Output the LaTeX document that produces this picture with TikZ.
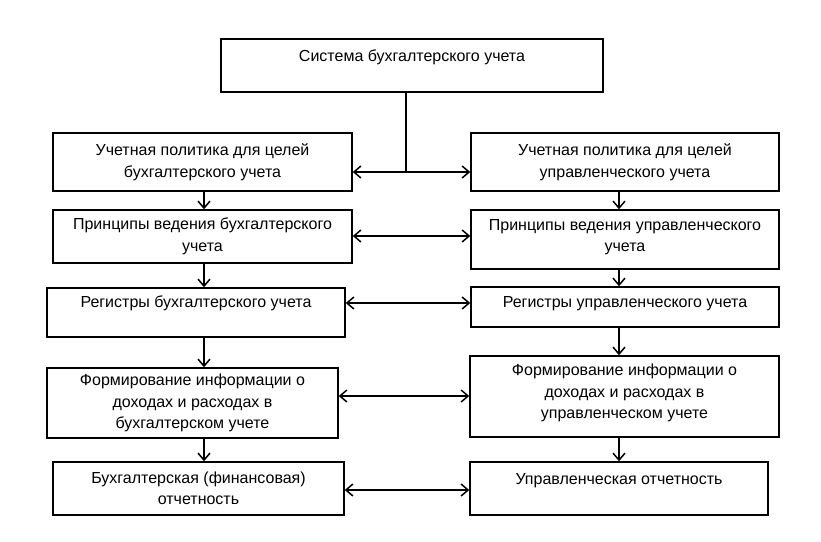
\documentclass[tikz,border=0pt]{standalone}
\usepackage{fontspec}
\setmainfont{Liberation Sans}
\usetikzlibrary{arrows.meta}
\tikzset{
  box/.style={draw, line width=1.5pt, align=center, inner sep=2pt, font=\fontsize{16}{21.5}\selectfont},
  arr/.style={-{Straight Barb[length=7pt,width=12pt]}, line width=1.5pt},
  darr/.style={{Straight Barb[length=7pt,width=12pt]}-{Straight Barb[length=7pt,width=12pt]}, line width=1.5pt}
}
\begin{document}
\begin{tikzpicture}[x=1pt,y=-1pt]
\useasboundingbox (0,0) rectangle (821,541);
\fill[white] (0,0) rectangle (821,541);

\node[box, minimum width=382, minimum height=53, text depth=20pt] (top) at (412,65.5) {Система бухгалтерского учета};

\node[box, minimum width=299, minimum height=58] (l1) at (202.5,162) {Учетная политика для целей\\бухгалтерского учета};
\node[box, minimum width=299, minimum height=53] (l2) at (202.5,236.5) {Принципы ведения бухгалтерского\\учета};
\node[box, minimum width=298, minimum height=49, text depth=21pt] (l3) at (196,312.5) {Регистры бухгалтерского учета};
\node[box, minimum width=291, minimum height=70] (l4) at (192.5,403) {Формирование информации о\\доходах и расходах в\\бухгалтерском учете};
\node[box, minimum width=291, minimum height=53] (l5) at (198.5,488.5) {Бухгалтерская (финансовая)\\отчетность};

\node[box, minimum width=308, minimum height=58] (r1) at (625,162) {Учетная политика для целей\\управленческого учета};
\node[box, minimum width=308, minimum height=59, text depth=8pt] (r2) at (625,239.5) {Принципы ведения управленческого\\учета};
\node[box, minimum width=308, minimum height=40, text depth=11pt] (r3) at (625,307) {Регистры управленческого учета};
\node[box, minimum width=309, minimum height=81, text depth=10pt] (r4) at (624.5,396.5) {Формирование информации о\\доходах и расходах в\\управленческом учете};
\node[box, minimum width=298, minimum height=53, text depth=20pt] (r5) at (619,488.5) {Управленческая отчетность};

\coordinate (j) at (406,172);
\coordinate (h2) at (406,236);
\coordinate (h3) at (406,303);
\coordinate (h4) at (406,396);
\coordinate (h5) at (406,490);
\coordinate (lx) at (204,0);
\coordinate (rx) at (619,0);

\draw[line width=1.5pt] (top.south -| j) -- (j);
\draw[darr] (l1.east |- j) -- (r1.west |- j);
\draw[darr] (l2.east |- h2) -- (r2.west |- h2);
\draw[darr] (l3.east |- h3) -- (r3.west |- h3);
\draw[darr] (l4.east |- h4) -- (r4.west |- h4);
\draw[darr] (l5.east |- h5) -- (r5.west |- h5);

\draw[arr] (l1.south -| lx) -- (l2.north -| lx);
\draw[arr] (l2.south -| lx) -- (l3.north -| lx);
\draw[arr] (l3.south -| lx) -- (l4.north -| lx);
\draw[arr] (l4.south -| lx) -- (l5.north -| lx);

\draw[arr] (r1.south -| rx) -- (r2.north -| rx);
\draw[arr] (r2.south -| rx) -- (r3.north -| rx);
\draw[arr] (r3.south -| rx) -- (r4.north -| rx);
\draw[arr] (r4.south -| rx) -- (r5.north -| rx);
\end{tikzpicture}
\end{document}
